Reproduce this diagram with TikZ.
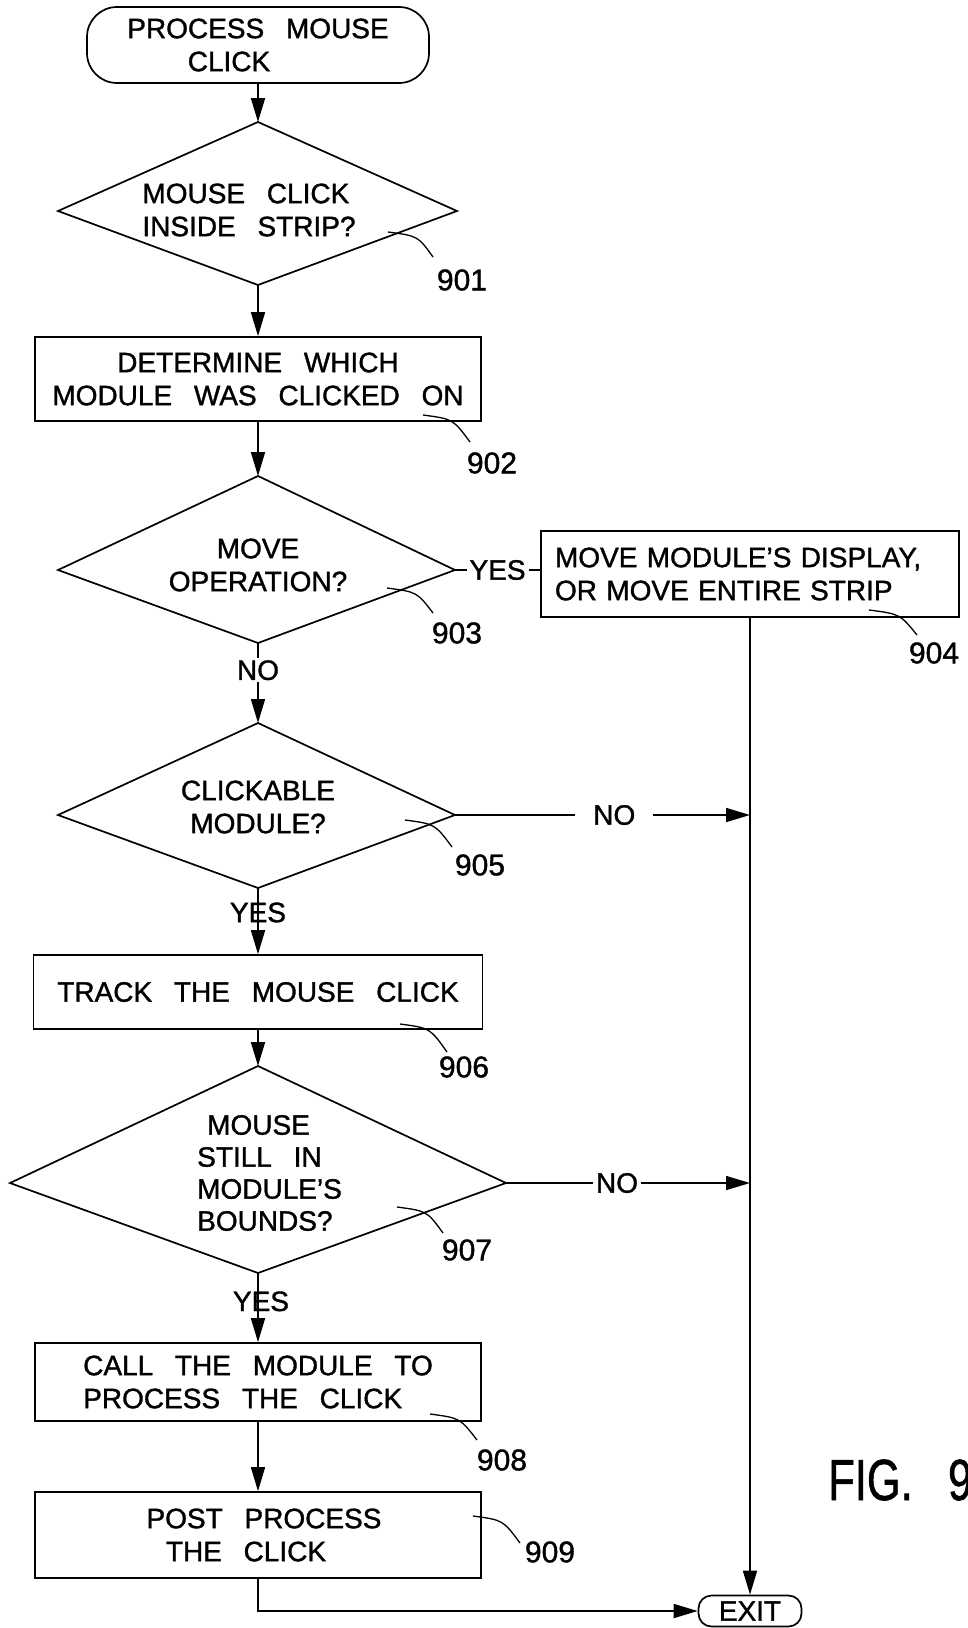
\documentclass[tikz,border=0pt]{standalone}
\usepackage{fontspec}
\setmainfont[WordSpace=2.8,FakeBold=1.2]{Liberation Sans}
\usepackage{graphicx}
\usetikzlibrary{arrows.meta}
\begin{document}
\begin{tikzpicture}[x=1pt,y=-1pt,
  every node/.style={font=\fontsize{28}{33}\selectfont, inner sep=0pt},
  line/.style={line width=1.7pt},
  arr/.style={line width=1.7pt, -{Triangle[length=24pt,width=14pt]}},
  box/.style={draw, line width=1.7pt, rectangle, align=center},
  term/.style={draw, line width=1.7pt, rounded corners=30pt, align=center},
  lead/.style={line width=1.3pt},
  num/.style={font=\fontsize{30}{30}\selectfont},
  lbl/.style={fill=white, inner xsep=3pt, inner ysep=2pt}]
\fill[white] (0,0) rectangle (967,1628);
\useasboundingbox (0,0) rectangle (967,1628);

% start
\node[term, minimum width=342pt, minimum height=76pt] (start) at (258,45)
  {PROCESS MOUSE\\\hbox{CLICK\kern58pt}};

% diamond 901
\coordinate (d1t) at (258,122); \coordinate (d1r) at (457,211);
\coordinate (d1b) at (258,285); \coordinate (d1l) at (58,211);
\draw[line] (d1t) -- (d1r) -- (d1b) -- (d1l) -- cycle;
\node[align=left] (d1) at (249,210) {MOUSE CLICK\\INSIDE STRIP?};

% box 902
\node[box, minimum width=446pt, minimum height=84pt] (b902) at (258,379)
  {DETERMINE WHICH\\MODULE WAS CLICKED ON};

% diamond 903
\coordinate (d3t) at (258,476); \coordinate (d3r) at (455,570);
\coordinate (d3b) at (258,643); \coordinate (d3l) at (58,570);
\draw[line] (d3t) -- (d3r) -- (d3b) -- (d3l) -- cycle;
\node[align=center] (d3) at (258,565) {MOVE\\OPERATION?};

% box 904
\node[box, align=left, text width=390pt, inner xsep=14pt, minimum height=86pt] (b904) at (750,574)
  {MOVE MODULE'S DISPLAY,\\OR MOVE ENTIRE STRIP};

% diamond 905
\coordinate (d5t) at (258,723); \coordinate (d5r) at (455,815);
\coordinate (d5b) at (258,888); \coordinate (d5l) at (58,815);
\draw[line] (d5t) -- (d5r) -- (d5b) -- (d5l) -- cycle;
\node[align=center] (d5) at (258,807) {CLICKABLE\\MODULE?};

% box 906
\node[box, minimum width=449pt, minimum height=74pt] (b906) at (258,992)
  {TRACK THE MOUSE CLICK};

% diamond 907
\coordinate (d7t) at (258,1066); \coordinate (d7r) at (506,1183);
\coordinate (d7b) at (258,1273); \coordinate (d7l) at (10,1183);
\draw[line] (d7t) -- (d7r) -- (d7b) -- (d7l) -- cycle;
\node[align=left, anchor=west, font=\fontsize{28}{32}\selectfont] (d7) at (197,1173)
  {\kern10pt MOUSE\\STILL IN\\MODULE'S\\BOUNDS?};

% box 908
\node[box, align=left, minimum width=446pt, minimum height=78pt] (b908) at (258,1382)
  {CALL THE MODULE TO\\PROCESS THE CLICK};

% box 909
\node[box, minimum width=446pt, minimum height=86pt] (b909) at (258,1535)
  {\hbox{\kern12pt POST PROCESS}\\\hbox{THE CLICK\kern24pt}};

% exit
\node[term, rounded corners=13pt, minimum width=103pt, minimum height=31pt] (exit) at (750,1611) {EXIT};

% junctions
\coordinate (j1) at (b904.south |- d5r);
\coordinate (j2) at (b904.south |- d7r);

% connectors
\draw[arr] (start.south) -- (d1t);
\draw[arr] (d1b) -- (b902.north);
\draw[arr] (b902.south) -- (d3t);
\draw[line] (d3r) -- node[lbl, midway] {YES} (d3r -| b904.west);
\draw[arr] (d3b) -- node[lbl, pos=0.34] {NO} (d5t);
\draw[arr] (d5r) -- node[lbl, inner xsep=18pt, pos=0.54] {NO} (j1);
\draw[arr] (d5b) -- node[pos=0.37] {YES} (b906.north);
\draw[arr] (b906.south) -- (d7t);
\draw[arr] (d7r) -- node[lbl, pos=0.455] {NO} (j2);
\draw[arr] (d7b) -- node[pos=0.41, xshift=3pt] {YES} (b908.north);
\draw[arr] (b908.south) -- (b909.north);
\draw[arr] (b909.south) |- (exit.west);
\draw[arr] (b904.south) -- (exit.north);

% reference numerals
\node[num] (n901) at (462,280) {901};
\node[num] (n902) at (492,463) {902};
\node[num] (n903) at (457,633) {903};
\node[num] (n904) at (934,653) {904};
\node[num] (n905) at (480,865) {905};
\node[num] (n906) at (464,1067) {906};
\node[num] (n907) at (467,1250) {907};
\node[num] (n908) at (502,1460) {908};
\node[num] (n909) at (550,1552) {909};

\draw[lead] (388,232) .. controls (418,236) .. (433,257);
\draw[lead] (423,415) .. controls (453,419) .. (470,442);
\draw[lead] (387,588) .. controls (417,592) .. (433,613);
\draw[lead] (869,610) .. controls (900,614) .. (917,635);
\draw[lead] (405,820) .. controls (435,824) .. (452,847);
\draw[lead] (400,1024) .. controls (430,1028) .. (447,1052);
\draw[lead] (397,1207) .. controls (427,1211) .. (443,1233);
\draw[lead] (430,1414) .. controls (460,1418) .. (477,1440);
\draw[lead] (473,1516) .. controls (503,1520) .. (520,1543);

% figure label
\node[anchor=base west, font=\fontsize{58}{58}\selectfont] (fig) at (828,1500)
  {\scalebox{0.75}[1]{FIG.\kern47pt 9}};
\end{tikzpicture}
\end{document}
